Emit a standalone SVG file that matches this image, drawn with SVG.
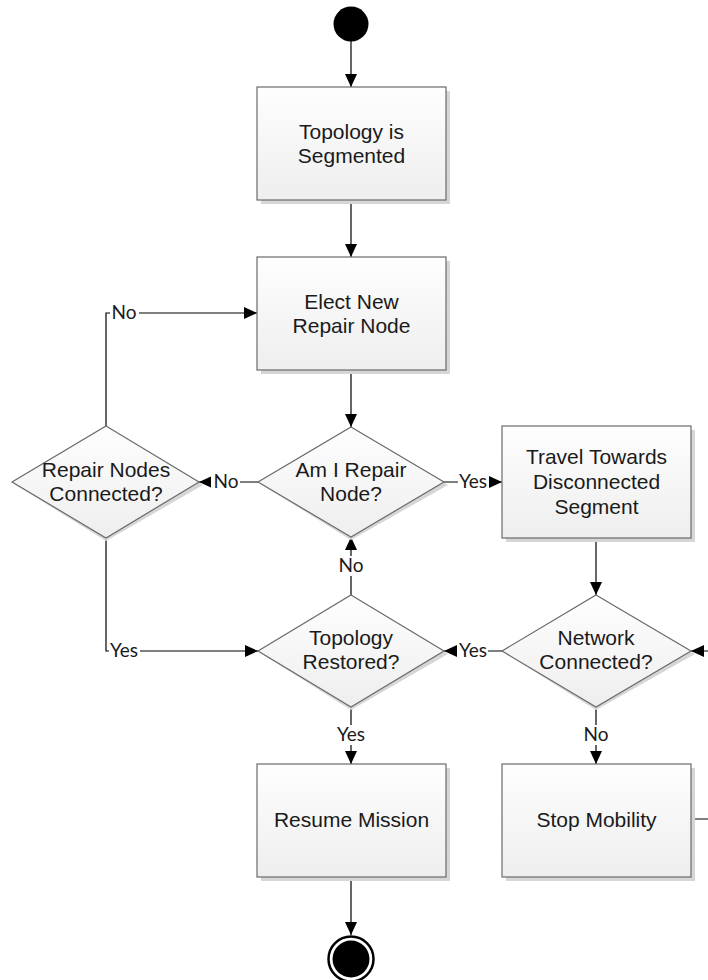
<svg xmlns="http://www.w3.org/2000/svg" width="708" height="980" viewBox="0 0 708 980">
  <defs>
    <linearGradient id="nodeFill" x1="0" y1="0" x2="0" y2="1">
      <stop offset="0" stop-color="#fefefe"/>
      <stop offset="1" stop-color="#eeeeee"/>
    </linearGradient>
    <marker id="arrow" viewBox="0 0 13 12" refX="13" refY="6" markerWidth="13" markerHeight="12" markerUnits="userSpaceOnUse" orient="auto">
      <path d="M0,0 L13,6 L0,12 Z" fill="#000"/>
    </marker>
  </defs>
  <style>
    .shadow { fill: #d6d6d6; }
    .shape { fill: url(#nodeFill); stroke: #6a6a6a; stroke-width: 1.2; }
    .txt { font-family: "Liberation Sans", Arial, sans-serif; font-size: 21px; fill: #1a1a1a; text-anchor: middle; }
    .edge { fill: none; stroke: #000; stroke-width: 1.2; }
    .lbl { font-family: Lato, "Liberation Sans", sans-serif; font-size: 19px; fill: #1a1a1a; text-anchor: middle; }
    .lblbg { fill: #fff; }
  </style>

  <rect width="708" height="980" fill="#fff"/>

  <!-- connectors -->
  <g id="connectors">
    <path class="edge" d="M351,41 V87" marker-end="url(#arrow)"/>
    <path class="edge" d="M351,200 V257" marker-end="url(#arrow)"/>
    <path class="edge" d="M351,370 V427" marker-end="url(#arrow)"/>
    <path class="edge" d="M258,482 H199" marker-end="url(#arrow)"/>
    <path class="edge" d="M444,482 H502" marker-end="url(#arrow)"/>
    <path class="edge" d="M106,426 V313 H257" marker-end="url(#arrow)"/>
    <path class="edge" d="M106,538 V651 H258" marker-end="url(#arrow)"/>
    <path class="edge" d="M596,538 V595" marker-end="url(#arrow)"/>
    <path class="edge" d="M351,595 V537" marker-end="url(#arrow)"/>
    <path class="edge" d="M502,651 H444" marker-end="url(#arrow)"/>
    <path class="edge" d="M351,707 V764" marker-end="url(#arrow)"/>
    <path class="edge" d="M596,707 V764" marker-end="url(#arrow)"/>
    <path class="edge" d="M691,819 H714 V651 H691" marker-end="url(#arrow)"/>
    <path class="edge" d="M351,877 V935" marker-end="url(#arrow)"/>

    <!-- branch labels -->
    <rect class="lblbg" x="110" y="303" width="29" height="20"/>
    <text class="lbl" x="124" y="319">No</text>
    <rect class="lblbg" x="211" y="472" width="29" height="20"/>
    <text class="lbl" x="226" y="488">No</text>
    <rect class="lblbg" x="458" y="472" width="31" height="20"/>
    <text class="lbl" x="473" y="488">Yes</text>
    <rect class="lblbg" x="336" y="556" width="29" height="20"/>
    <text class="lbl" x="351" y="572">No</text>
    <rect class="lblbg" x="109" y="641" width="31" height="20"/>
    <text class="lbl" x="124" y="657">Yes</text>
    <rect class="lblbg" x="457" y="641" width="31" height="20"/>
    <text class="lbl" x="473" y="657">Yes</text>
    <rect class="lblbg" x="335" y="725" width="32" height="20"/>
    <text class="lbl" x="351" y="741">Yes</text>
    <rect class="lblbg" x="582" y="725" width="29" height="20"/>
    <text class="lbl" x="596" y="741">No</text>
  </g>

  <!-- initial state -->
  <g id="start">
    <circle cx="351" cy="24" r="17.5" fill="#000"/>
  </g>

  <g id="topology-segmented">
    <rect class="shadow" x="261" y="91" width="189" height="113"/>
    <rect class="shape" x="257" y="87" width="189" height="113"/>
    <text class="txt" x="351.5" y="139">Topology is</text>
    <text class="txt" x="351.5" y="163">Segmented</text>
  </g>

  <g id="elect-repair-node">
    <rect class="shadow" x="261" y="261" width="189" height="113"/>
    <rect class="shape" x="257" y="257" width="189" height="113"/>
    <text class="txt" x="351.5" y="309">Elect New</text>
    <text class="txt" x="351.5" y="333">Repair Node</text>
  </g>

  <g id="am-i-repair-node">
    <path class="shadow" d="M351,430 L448,485 L351,540 L262,485 Z"/>
    <path class="shape" d="M351,427 L444,482 L351,537 L258,482 Z"/>
    <text class="txt" x="351" y="477">Am I Repair</text>
    <text class="txt" x="351" y="501">Node?</text>
  </g>

  <g id="repair-nodes-connected">
    <path class="shadow" d="M106,429 L203,485 L106,541 L16,485 Z"/>
    <path class="shape" d="M106,426 L199,482 L106,538 L12,482 Z"/>
    <text class="txt" x="106" y="477">Repair Nodes</text>
    <text class="txt" x="106" y="501">Connected?</text>
  </g>

  <g id="travel-towards-segment">
    <rect class="shadow" x="506" y="430" width="189" height="112"/>
    <rect class="shape" x="502" y="426" width="189" height="112"/>
    <text class="txt" x="596.5" y="464">Travel Towards</text>
    <text class="txt" x="596.5" y="489">Disconnected</text>
    <text class="txt" x="596.5" y="514">Segment</text>
  </g>

  <g id="topology-restored">
    <path class="shadow" d="M351,598 L448,654 L351,710 L262,654 Z"/>
    <path class="shape" d="M351,595 L444,651 L351,707 L258,651 Z"/>
    <text class="txt" x="351" y="645">Topology</text>
    <text class="txt" x="351" y="669">Restored?</text>
  </g>

  <g id="network-connected">
    <path class="shadow" d="M596,598 L695,654 L596,710 L506,654 Z"/>
    <path class="shape" d="M596,595 L691,651 L596,707 L502,651 Z"/>
    <text class="txt" x="596" y="645">Network</text>
    <text class="txt" x="596" y="669">Connected?</text>
  </g>

  <g id="resume-mission">
    <rect class="shadow" x="261" y="768" width="189" height="113"/>
    <rect class="shape" x="257" y="764" width="189" height="113"/>
    <text class="txt" x="351.5" y="827">Resume Mission</text>
  </g>

  <g id="stop-mobility">
    <rect class="shadow" x="506" y="768" width="189" height="113"/>
    <rect class="shape" x="502" y="764" width="189" height="113"/>
    <text class="txt" x="596.5" y="827">Stop Mobility</text>
  </g>

  <!-- final state -->
  <g id="end">
    <circle cx="351" cy="959" r="22.5" fill="#fff" stroke="#000" stroke-width="2.5"/>
    <circle cx="351" cy="959" r="18.5" fill="#000"/>
  </g>
</svg>
